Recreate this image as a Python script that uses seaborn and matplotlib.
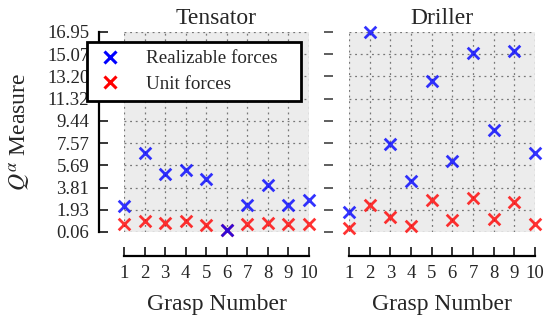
import matplotlib
matplotlib.use("Agg")
import matplotlib.pyplot as plt
import seaborn as sns
import pandas as pd

grasps = [1, 2, 3, 4, 5, 6, 7, 8, 9, 10]
tensator_realizable = [2.22, 6.73, 4.96, 5.32, 4.53, 0.23, 2.34, 4.03, 2.34, 2.79]
tensator_unit = [0.74, 0.99, 0.79, 0.99, 0.65, 0.20, 0.71, 0.85, 0.71, 0.74]
driller_realizable = [1.72, 16.95, 7.46, 4.37, 12.84, 6.06, 15.15, 8.67, 15.35, 6.71]
driller_unit = [0.37, 2.34, 1.30, 0.59, 2.76, 1.07, 2.96, 1.16, 2.62, 0.71]
ytick_values = [0.06, 1.93, 3.81, 5.69, 7.57, 9.44, 11.32, 13.20, 15.07, 16.95]
ytick_labels = ["0.06", "1.93", "3.81", "5.69", "7.57", "9.44", "11.32", "13.20", "15.07", "16.95"]
titles = ["Tensator", "Driller"]
series_names = ["Realizable forces", "Unit forces"]

sns.set_theme(style="ticks")
plt.rcParams["font.family"] = ["Liberation Serif", "DejaVu Serif"]
plt.rcParams["mathtext.fontset"] = "stix"

fig = plt.figure(figsize=(5.45, 3.22), dpi=100)
W, H = 545, 322
def rect(x0, x1, y0, y1):
    return [x0 / W, 1 - y1 / H, (x1 - x0) / W, (y1 - y0) / H]

ax1 = fig.add_axes(rect(124, 309, 32, 232))
ax2 = fig.add_axes(rect(349, 535, 32, 232))

data = [(tensator_realizable, tensator_unit), (driller_realizable, driller_unit)]
blue = "#0000ff"
red = "#ff0000"

for i, (ax, (real, unit), title) in enumerate(zip([ax1, ax2], data, titles)):
    ax.set_facecolor("#ececec")
    df = pd.DataFrame({"grasp": grasps, "real": real, "unit": unit})
    sns.scatterplot(data=df, x="grasp", y="unit", marker="x", s=70, linewidth=2,
                    color=red, alpha=0.8, ax=ax, clip_on=False, zorder=3, legend=False)
    sns.scatterplot(data=df, x="grasp", y="real", marker="x", s=70, linewidth=2,
                    color=blue, alpha=0.8, ax=ax, clip_on=False, zorder=4, legend=False)
    ax.set_xlim(1, 10)
    ax.set_ylim(ytick_values[0], ytick_values[-1])
    ax.set_xticks(grasps)
    ax.set_xticklabels([str(g) for g in grasps])
    ax.set_yticks(ytick_values)
    ax.grid(True, linestyle=(0, (1.5, 3)), color="#777777", linewidth=0.9)
    ax.set_axisbelow(True)
    for s in ["top", "right"]:
        ax.spines[s].set_visible(False)
    ax.spines["left"].set_position(("outward", 18))
    ax.spines["bottom"].set_position(("outward", 17.5))
    for s in ["left", "bottom"]:
        ax.spines[s].set_linewidth(1.6)
        ax.spines[s].set_color("black")
    ax.tick_params(axis="both", direction="in", length=6.5, width=1.1, color="black",
                   labelsize=13.5)
    ax.tick_params(axis="x", pad=6)
    ax.tick_params(axis="y", pad=7)
    ax.set_title(title, fontsize=17, pad=6)
    ax.set_xlabel("Grasp Number", fontsize=17, labelpad=9)
    if i == 0:
        ax.set_yticklabels(ytick_labels)
        ax.set_ylabel(r"$Q^{\alpha}$ Measure", fontsize=17, labelpad=10)
    else:
        ax.set_yticklabels([])
        ax.set_ylabel("")
        ax.spines["left"].set_visible(False)
        ax.tick_params(axis="y", color="#333333")

leg_handles = [plt.Line2D([], [], marker="x", linestyle="none", color=c, markersize=8.5,
                          markeredgewidth=2.2) for c in [blue, red]]
leg = fig.legend(leg_handles, series_names, loc="upper left", mode="expand",
                 bbox_to_anchor=(87 / W, 1 - 99 / H, 214 / W, 57 / H),
                 bbox_transform=fig.transFigure,
                 frameon=True, fancybox=False, framealpha=1, edgecolor="black",
                 fontsize=13.7, borderaxespad=0, handletextpad=1.08, borderpad=0.42,
                 labelspacing=0.43, handlelength=1.6)
leg.get_frame().set_linewidth(2)
leg.set_zorder(10)

fig.savefig("out.png", dpi=100)
